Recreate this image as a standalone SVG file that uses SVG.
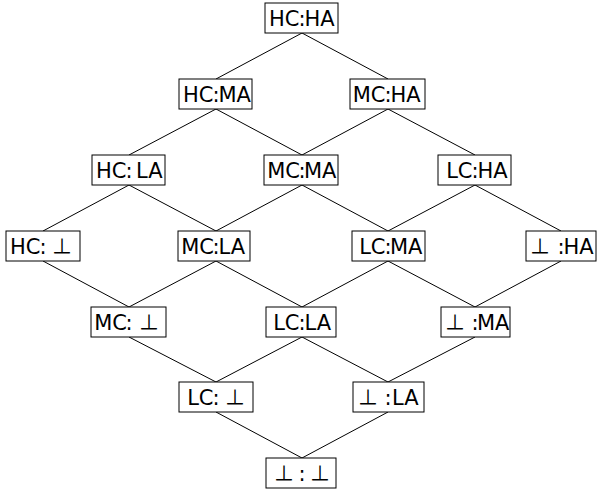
<svg xmlns="http://www.w3.org/2000/svg" width="603" height="498" viewBox="0 0 603 498">
<style>
.box{fill:#fff;stroke:#000;stroke-width:1}
text{font-family:"DejaVu Sans",sans-serif;font-size:21px;fill:#000}
.l{text-anchor:end}
.c{text-anchor:middle}
.r{text-anchor:start}
.m{text-anchor:middle}
.b{font-family:"Noto Sans CJK JP","DejaVu Sans",sans-serif;font-size:20px}
.edges line{stroke:#000;stroke-width:1}
</style>
<rect width="603" height="498" fill="#fff"/>
<g class="edges">
<line x1="302" y1="33" x2="216" y2="79"/>
<line x1="302" y1="33" x2="388" y2="79"/>
<line x1="216" y1="109" x2="129" y2="155"/>
<line x1="216" y1="109" x2="302" y2="155"/>
<line x1="388" y1="109" x2="302" y2="155"/>
<line x1="388" y1="109" x2="475" y2="155"/>
<line x1="129" y1="185" x2="43" y2="231"/>
<line x1="129" y1="185" x2="216" y2="231"/>
<line x1="302" y1="185" x2="216" y2="231"/>
<line x1="302" y1="185" x2="388" y2="231"/>
<line x1="475" y1="185" x2="388" y2="231"/>
<line x1="475" y1="185" x2="561" y2="231"/>
<line x1="43" y1="261" x2="129" y2="307"/>
<line x1="216" y1="261" x2="129" y2="307"/>
<line x1="216" y1="261" x2="302" y2="307"/>
<line x1="388" y1="261" x2="302" y2="307"/>
<line x1="388" y1="261" x2="475" y2="307"/>
<line x1="561" y1="261" x2="475" y2="307"/>
<line x1="129" y1="337" x2="216" y2="382"/>
<line x1="302" y1="337" x2="216" y2="382"/>
<line x1="302" y1="337" x2="388" y2="382"/>
<line x1="475" y1="337" x2="388" y2="382"/>
<line x1="216" y1="412" x2="302" y2="458"/>
<line x1="388" y1="412" x2="302" y2="458"/>
</g>
<g id="hc-ha" transform="translate(302,3)"><rect class="box" x="-37" y="0" width="73" height="30"/><text y="23"><tspan class="l" x="-2.5">HC</tspan><tspan class="c" x="0">:</tspan><tspan class="r" x="2.5">HA</tspan></text></g>
<g id="hc-ma" transform="translate(216,79)"><rect class="box" x="-37" y="0" width="73" height="30"/><text y="23"><tspan class="l" x="-2.5">HC</tspan><tspan class="c" x="0">:</tspan><tspan class="r" x="2.5">MA</tspan></text></g>
<g id="mc-ha" transform="translate(388,79)"><rect class="box" x="-38" y="0" width="75" height="30"/><text y="23"><tspan class="l" x="-2.5">MC</tspan><tspan class="c" x="0">:</tspan><tspan class="r" x="2.5">HA</tspan></text></g>
<g id="hc-la" transform="translate(129,155)"><rect class="box" x="-37" y="0" width="73" height="30"/><text y="23"><tspan class="l" x="-2.5">HC</tspan><tspan class="c" x="0">:</tspan><tspan class="r" x="7">LA</tspan></text></g>
<g id="mc-ma" transform="translate(302,155)"><rect class="box" x="-38" y="0" width="74" height="30"/><text y="23"><tspan class="l" x="-2">MC</tspan><tspan class="c" x="0">:</tspan><tspan class="r" x="2">MA</tspan></text></g>
<g id="lc-ha" transform="translate(475,155)"><rect class="box" x="-37" y="0" width="73" height="30"/><text y="23"><tspan class="l" x="-2.5">LC</tspan><tspan class="c" x="0">:</tspan><tspan class="r" x="2.5">HA</tspan></text></g>
<g id="hc-bot" transform="translate(43,231)"><rect class="box" x="-37" y="0" width="74" height="30"/><text y="23"><tspan class="l" x="-2.5">HC</tspan><tspan class="c" x="0">:</tspan><tspan class="m b" x="19">⊥</tspan></text></g>
<g id="mc-la" transform="translate(216,231)"><rect class="box" x="-38" y="0" width="72" height="30"/><text y="23"><tspan class="l" x="-2">MC</tspan><tspan class="c" x="0">:</tspan><tspan class="r" x="2.5">LA</tspan></text></g>
<g id="lc-ma" transform="translate(388,231)"><rect class="box" x="-36" y="0" width="73" height="30"/><text y="23"><tspan class="l" x="-2.5">LC</tspan><tspan class="c" x="0">:</tspan><tspan class="r" x="2">MA</tspan></text></g>
<g id="bot-ha" transform="translate(561,231)"><rect class="box" x="-35" y="0" width="70" height="30"/><text y="23"><tspan class="m b" x="-21">⊥</tspan><tspan class="c" x="0">:</tspan><tspan class="r" x="2.5">HA</tspan></text></g>
<g id="mc-bot" transform="translate(129,307)"><rect class="box" x="-38" y="0" width="75" height="30"/><text y="23"><tspan class="l" x="-2">MC</tspan><tspan class="c" x="0">:</tspan><tspan class="m b" x="20">⊥</tspan></text></g>
<g id="lc-la" transform="translate(302,307)"><rect class="box" x="-36" y="0" width="70" height="30"/><text y="23"><tspan class="l" x="-2.5">LC</tspan><tspan class="c" x="0">:</tspan><tspan class="r" x="2.5">LA</tspan></text></g>
<g id="bot-ma" transform="translate(475,307)"><rect class="box" x="-34" y="0" width="69" height="30"/><text y="23"><tspan class="m b" x="-20">⊥</tspan><tspan class="c" x="0">:</tspan><tspan class="r" x="2">MA</tspan></text></g>
<g id="lc-bot" transform="translate(216,382)"><rect class="box" x="-37" y="0" width="74" height="30"/><text y="23"><tspan class="l" x="-2.5">LC</tspan><tspan class="c" x="0">:</tspan><tspan class="m b" x="19">⊥</tspan></text></g>
<g id="bot-la" transform="translate(388,382)"><rect class="box" x="-35" y="0" width="71" height="30"/><text y="23"><tspan class="m b" x="-20">⊥</tspan><tspan class="c" x="0">:</tspan><tspan class="r" x="4">LA</tspan></text></g>
<g id="bot-bot" transform="translate(302,458)"><rect class="box" x="-36" y="0" width="70" height="30"/><text y="23"><tspan class="m b" x="-18">⊥</tspan><tspan class="c" x="0">:</tspan><tspan class="m b" x="18">⊥</tspan></text></g>
</svg>
